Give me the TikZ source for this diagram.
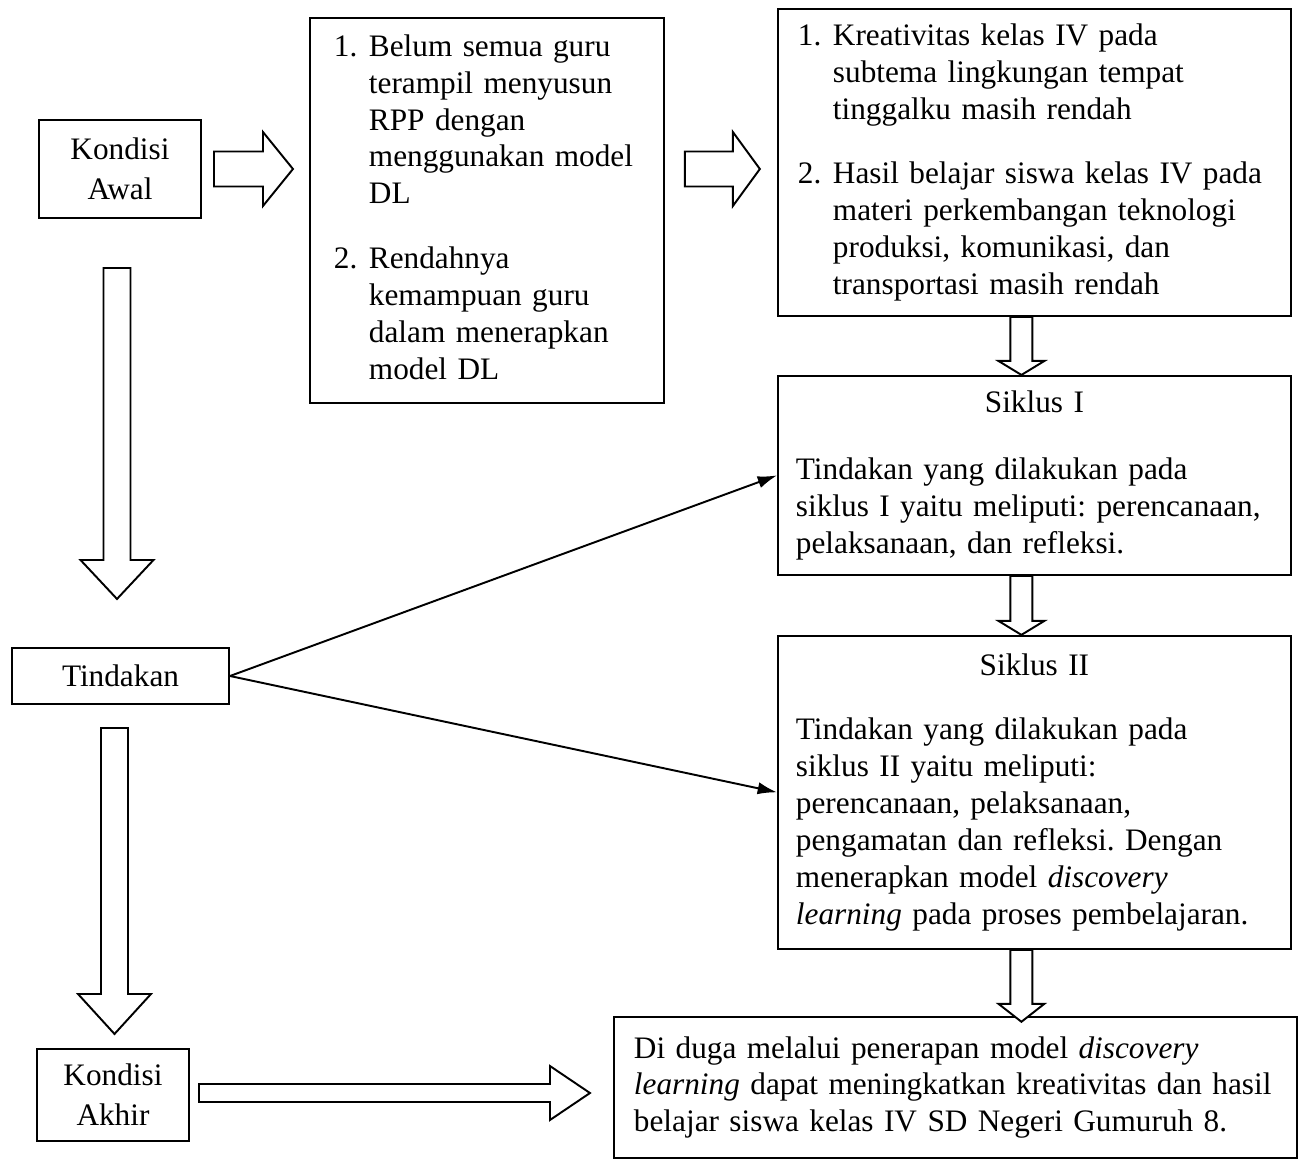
\documentclass[tikz,border=0pt]{standalone}
\usepackage{fontspec}
\setmainfont{Liberation Serif}
\usetikzlibrary{positioning,calc,arrows.meta}
\frenchspacing

\newcommand{\px}{0.02cm}
% hollow block arrows: start, shaft length, head length, shaft half width, head half width
\newcommand{\rblock}[5]{\draw[block] ($(#1)+(0,#4)$) -- ++(#2,0) -- ++(0,{#5-#4}) -- ++(#3,{-#5}) -- ++({-#3},{-#5}) -- ++(0,{#5-#4}) -- ++({-#2},0) -- cycle;}
\newcommand{\dblock}[5]{\draw[block] ($(#1)+({-#4},0)$) -- ++(0,#2) -- ++({#4-#5},0) -- ++(#5,#3) -- ++(#5,{-#3}) -- ++({#4-#5},0) -- ++(0,{-#2}) -- cycle;}

\begin{document}
\begin{tikzpicture}[
    x=0.02cm, y=-0.02cm,
    box/.style={draw, rectangle, line width=1.1pt, anchor=north west, inner ysep=0pt, align=left, font=\fontsize{17.8}{21}\selectfont},
    small/.style={draw, rectangle, line width=1.1pt, align=center, inner sep=0pt, font=\fontsize{17.8}{22.8}\selectfont},
    block/.style={line width=1.1pt, line join=miter, fill=white},
    arrow/.style={-{Latex[length=11pt,width=7pt]}, line width=1.1pt}
]
\useasboundingbox (0,0) rectangle (1304,1159);

% Left column
\node[small, minimum width=162*\px, minimum height=98*\px] (awal) at (120,169) {Kondisi\\Awal};

\node[small, minimum width=217*\px, minimum height=56*\px] (tindakan) at (120.5,676) {Tindakan};

\node[small, minimum width=152*\px, minimum height=92*\px] (akhir) at (113,1095) {Kondisi\\Akhir};

% Problems of the teacher
\node[box, text width=6.12cm, inner xsep=0.48cm, minimum height=385*\px] (masalah) at (309,17) {%
\begin{tabular}{@{}p{0.7cm}@{}l@{}}
1. & Belum semua guru\\
   & terampil menyusun\\
   & RPP dengan\\
   & menggunakan model\\
   & DL\\[0.56cm]
2. & Rendahnya\\
   & kemampuan guru\\
   & dalam menerapkan\\
   & model DL
\end{tabular}};

% Right column
\node[box, text width=9.46cm, inner xsep=0.4cm, minimum height=307*\px] (kondisi) at (777,8) {%
\begin{tabular}{@{}p{0.7cm}@{}l@{}}
1. & Kreativitas kelas IV pada\\
   & subtema lingkungan tempat\\
   & tinggalku masih rendah\\[0.54cm]
2. & Hasil belajar siswa kelas IV pada\\
   & materi perkembangan teknologi\\
   & produksi, komunikasi, dan\\
   & transportasi masih rendah
\end{tabular}};

\node[box, text width=9.54cm, inner xsep=0.36cm, minimum height=199*\px, below=1.16cm of kondisi] (siklus1) {%
\makebox[\linewidth]{Siklus I}\\[0.62cm]
Tindakan yang dilakukan pada\\
siklus I yaitu meliputi: perencanaan,\\
pelaksanaan, dan refleksi.\\[-0.2cm]};

\node[box, text width=9.54cm, inner xsep=0.36cm, minimum height=313*\px, below=1.18cm of siklus1] (siklus2) {%
\makebox[\linewidth]{Siklus II}\\[0.54cm]
Tindakan yang dilakukan pada\\
siklus II yaitu meliputi:\\
perencanaan, pelaksanaan,\\
pengamatan dan refleksi. Dengan\\
menerapkan model \textit{discovery}\\
\textit{learning} pada proses pembelajaran.};

\node[box, text width=12.86cm, inner xsep=0.4cm, minimum height=141*\px] (hipotesis) at (613,1016) {%
Di duga melalui penerapan model \textit{discovery}\\
\textit{learning} dapat meningkatkan kreativitas dan hasil\\
belajar siswa kelas IV SD Negeri Gumuruh 8.};

% Block arrows
\coordinate (r1) at ($(awal.east)+(12,0)$);
\coordinate (r2) at ($(masalah.east |- awal.east)+(20,0)$);
\coordinate (r3) at ($(akhir.east)+(9,-2)$);
\coordinate (d1) at ($(awal.south)+(-3,49)$);
\coordinate (d2) at ($(tindakan.south)+(-6,23)$);
\coordinate (s1) at ($(kondisi.south)+(-13,0)$);
\coordinate (s2) at ($(siklus1.south)+(-13,0)$);
\coordinate (s3) at ($(siklus2.south)+(-13,0)$);

\rblock{r1}{49}{30}{17.5}{37}
\rblock{r2}{48}{27}{17.5}{37}
\rblock{r3}{351}{40}{9}{27}
\dblock{d1}{292}{39}{13.5}{36.5}
\dblock{d2}{266}{40}{13.5}{36.5}
\dblock{s1}{44}{14}{11}{23}
\dblock{s2}{45}{14}{11}{23}
\dblock{s3}{54}{18}{11}{23}

% Arrows
\draw[arrow] (tindakan.east) -- (siklus1.west);
\draw[arrow] (tindakan.east) -- (siklus2.west);

\end{tikzpicture}
\end{document}
